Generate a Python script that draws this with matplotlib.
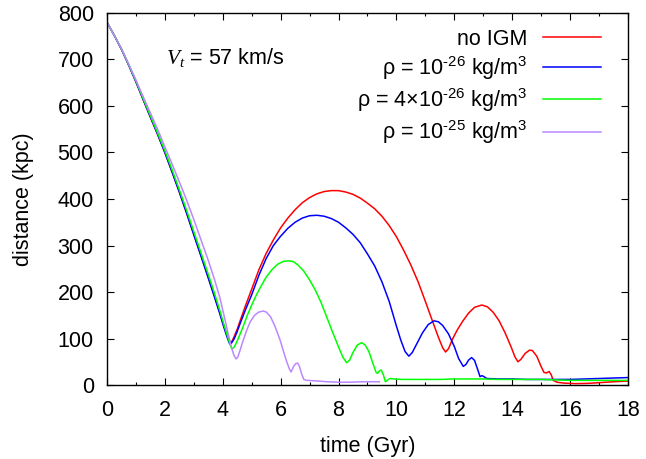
import matplotlib
matplotlib.use("Agg")
import matplotlib.pyplot as plt
from matplotlib.ticker import MultipleLocator

plt.rcParams["font.family"] = ["Liberation Sans", "DejaVu Sans"]
plt.rcParams["mathtext.fontset"] = "custom"
plt.rcParams["mathtext.rm"] = "Liberation Sans"
plt.rcParams["mathtext.it"] = "Liberation Serif:italic"
plt.rcParams["mathtext.default"] = "rm"

# --- data ---
t_red = [0, 0.25, 0.5, 0.75, 1.0, 1.25, 1.5, 1.75, 2.0, 2.25, 2.5, 2.75, 3.0, 3.25, 3.5,
         3.7, 3.9, 4.05, 4.15, 4.22, 4.27, 4.33, 4.4, 4.5, 4.6, 4.8, 5.0, 5.25, 5.5, 5.75,
         6.0, 6.25, 6.5, 6.75, 7.0, 7.25, 7.5, 7.75, 8.0, 8.25, 8.5, 8.75, 9.0, 9.25,
         9.5, 9.75, 10.0, 10.25, 10.5, 10.75, 11.0, 11.25, 11.45, 11.6, 11.7, 11.8,
         11.95, 12.1, 12.3, 12.5, 12.7, 12.95, 13.15, 13.35, 13.55, 13.75, 13.95, 14.1,
         14.2, 14.3, 14.45, 14.6, 14.7, 14.85, 15.0, 15.1, 15.18, 15.28, 15.35, 15.42,
         15.55, 15.8, 16.2, 16.6, 17.0, 17.5, 18.0]
d_red = [780, 752, 722, 688, 652, 614, 576, 539, 500, 458, 415, 370, 324, 278, 232,
         194, 155, 125, 107, 96, 92, 95, 105, 120, 138, 173, 206, 248, 283, 312,
         338, 359, 377, 392, 403, 411, 416, 418, 418, 415, 410, 402, 391, 379,
         363, 343, 319, 290, 258, 222, 180, 137, 103, 80, 71, 78,
         100, 118, 138, 155, 167, 172, 168, 156, 138, 113, 84, 60,
         50, 55, 68, 75, 74, 62, 40, 27, 26, 29, 22, 10,
         6, 4, 3, 3.5, 5, 7, 8.5]

t_blue = [0, 0.25, 0.5, 0.75, 1.0, 1.25, 1.5, 1.75, 2.0, 2.25, 2.5, 2.75, 3.0, 3.25, 3.5,
          3.7, 3.9, 4.05, 4.15, 4.22, 4.25, 4.3, 4.4, 4.5, 4.6, 4.8, 5.0, 5.25, 5.5, 5.75,
          6.0, 6.25, 6.5, 6.75, 7.0, 7.25, 7.5, 7.75, 8.0, 8.25, 8.5, 8.75, 9.0, 9.25,
          9.5, 9.75, 10.0, 10.15, 10.3, 10.43, 10.55, 10.7, 10.9, 11.1, 11.3, 11.45,
          11.6, 11.8, 12.0, 12.15, 12.31, 12.4, 12.5, 12.6, 12.7, 12.8, 12.89, 12.95,
          13.0, 13.12, 13.5, 14.0, 14.5, 15.0, 15.5, 16.0, 16.5, 17.0, 17.5, 18.0]
d_blue = [780, 752, 722, 688, 652, 614, 576, 539, 500, 458, 415, 370, 323, 277, 230,
          192, 153, 122, 103, 91, 88, 90, 100, 115, 132, 164, 194, 236, 272, 300,
          320, 337, 350, 359, 364, 365, 363, 358, 350, 338, 324, 306, 282, 256,
          222, 180, 127, 97, 72, 62, 70, 88, 112, 130, 138, 136,
          128, 110, 83, 57, 40, 44, 54, 59, 53, 35, 18, 20,
          19, 14, 13, 13, 12, 12, 12, 12, 13, 14, 15, 16]

t_green = [0, 0.25, 0.5, 0.75, 1.0, 1.25, 1.5, 1.75, 2.0, 2.25, 2.5, 2.75, 3.0, 3.25,
           3.5, 3.7, 3.9, 4.05, 4.15, 4.25, 4.31, 4.38, 4.45, 4.55, 4.7, 4.85, 5.0, 5.15,
           5.3, 5.5, 5.7, 5.9, 6.1, 6.29, 6.45, 6.6, 6.8, 7.0, 7.2, 7.4, 7.6, 7.8, 8.0,
           8.15, 8.28, 8.38, 8.5, 8.65, 8.8, 8.92, 9.05, 9.18, 9.3, 9.35, 9.42, 9.48,
           9.55, 9.62, 9.68, 9.78, 9.9, 10.2, 10.6, 11.0, 11.5, 12.0, 12.5, 13.0, 13.5,
           14.0, 14.5, 15.0, 15.5, 16.0, 17.0, 18.0]
d_green = [780, 752, 723, 689, 654, 616, 579, 542, 504, 463, 420, 376, 330, 284,
           238, 200, 160, 128, 108, 88, 78, 80, 88, 102, 125, 150, 172, 192,
           210, 232, 248, 260, 266, 267, 265, 258, 245, 226, 204, 177, 145, 113, 82,
           60, 48, 53, 70, 86, 91, 86, 72, 48, 27, 25, 31, 32,
           22, 7, 10, 14, 13, 12, 12, 12, 12, 13, 13, 13, 12,
           12, 12, 12, 11, 10, 10, 10]

t_purple = [0, 0.25, 0.5, 0.75, 1.0, 1.25, 1.5, 1.75, 2.0, 2.25, 2.5, 2.75, 3.0, 3.25,
            3.5, 3.7, 3.9, 4.08, 4.18, 4.3, 4.38, 4.46, 4.52, 4.6, 4.7, 4.83, 4.95, 5.1,
            5.25, 5.4, 5.5, 5.65, 5.8, 5.98, 6.1, 6.2, 6.3, 6.36, 6.45, 6.52, 6.59, 6.65,
            6.72, 6.8, 6.9, 7.2, 7.6, 8.0, 8.4, 8.8, 9.1, 9.41]
d_purple = [780, 752, 723, 690, 656, 620, 585, 550, 512, 475, 437, 398, 356, 312,
            268, 230, 188, 140, 112, 82, 65, 56, 60, 75, 95, 118, 136, 150,
            157, 159, 157, 147, 127, 97, 72, 52, 35, 28, 40, 46, 47, 40,
            25, 12, 10, 9, 7, 6, 6, 7, 7, 7]

labels = ["no IGM",
          r"ρ = 10$^{\text{-}26}$ kg/m$^3$",
          r"ρ = 4×10$^{\text{-}26}$ kg/m$^3$",
          r"ρ = 10$^{\text{-}25}$ kg/m$^3$"]
colors = ["#ff0000", "#0000ff", "#00ff00", "#bb88ff"]

fig = plt.figure(figsize=(6.46, 4.59), dpi=100)
ax = fig.add_axes([0.1656, 0.1612, 0.8064, 0.8105])

series = [(t_red, d_red), (t_blue, d_blue), (t_green, d_green), (t_purple, d_purple)]
for (t, d), lab, c in zip(series, labels, colors):
    ax.plot(t, d, color=c, lw=1.1, label=lab)

FS = 15.5
ax.set_xlim(0, 18)
ax.set_ylim(0, 800)
ax.xaxis.set_major_locator(MultipleLocator(2))
ax.xaxis.set_minor_locator(MultipleLocator(1))
ax.yaxis.set_major_locator(MultipleLocator(100))
ax.tick_params(which="both", direction="in", top=True, right=True, labelsize=FS)
ax.tick_params(which="major", length=5, width=0.8)
ax.tick_params(which="minor", length=2.5, width=0.8)
ax.tick_params(axis="x", which="major", pad=10.5)
ax.tick_params(axis="y", which="major", pad=9.5)
for s in ax.spines.values():
    s.set_linewidth(1.0)

ax.set_xlabel("time (Gyr)", fontsize=FS, labelpad=11)
ax.set_ylabel("distance (kpc)", fontsize=FS, labelpad=17)

ax.text(2.04, 703, r"$\mathit{V}_{\mathit{t}}$ = 57 km/s", fontsize=FS, ha="left", va="center")

ax.legend(loc="upper right", frameon=False, markerfirst=False, fontsize=FS,
          handlelength=2.7, labelspacing=0.2, handletextpad=0.7,
          borderpad=0, borderaxespad=0, bbox_to_anchor=(0.948, 0.958))

fig.savefig("out.png", dpi=100)
